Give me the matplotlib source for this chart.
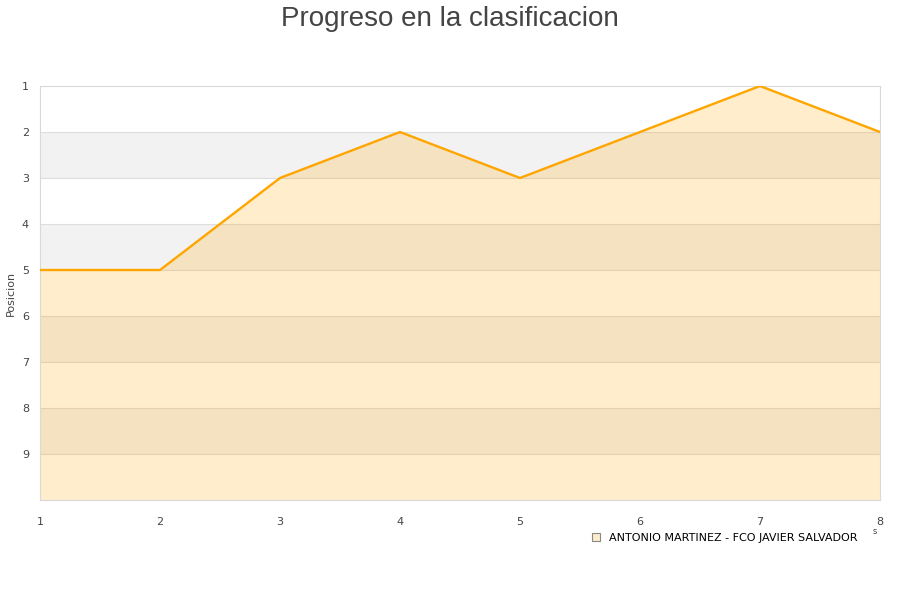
import matplotlib.pyplot as plt
from matplotlib.patches import Patch

jornadas = [1, 2, 3, 4, 5, 6, 7, 8]
posicion = [5, 5, 3, 2, 3, 2, 1, 2]
serie = "ANTONIO MARTINEZ - FCO JAVIER SALVADOR"
y_ticks = [1, 2, 3, 4, 5, 6, 7, 8, 9]

fig = plt.figure(figsize=(9, 6), dpi=100)
ax = fig.add_axes([40 / 900, 100 / 600, 840 / 900, 414 / 600])

# alternating bands
for lo in [2, 4, 6, 8]:
    ax.axhspan(lo, lo + 1, color='#f2f2f2', lw=0, zorder=0)
for y in y_ticks[1:]:
    ax.axhline(y, color='#dddddd', lw=0.8, zorder=1)

ax.fill_between(jornadas, posicion, 10, color='#ffa500', alpha=0.2, lw=0, zorder=2)
ax.plot(jornadas, posicion, color='#ffa500', lw=1.7, zorder=3)

ax.set_xlim(1, 8)
ax.set_ylim(10, 1)
ax.set_xticks(jornadas)
ax.set_yticks(y_ticks)
ax.tick_params(length=0, labelsize=8, colors='#444444', pad=12)
ax.tick_params(axis='y', pad=8)
for s in ax.spines.values():
    s.set_color('#d9d9d9')
ax.set_ylabel("Posicion", fontsize=8, color='#444444')
ax.yaxis.set_label_coords(-24 / 840, 0.5)

fig.suptitle("Progreso en la clasificacion", fontsize=20, color='#444444', y=0.99,
             family='Liberation Sans')

ax.legend(handles=[Patch(facecolor='#fdeccb', edgecolor='#888888', lw=0.8, label=serie)],
          loc='upper right', bbox_to_anchor=(0.985, -0.055), frameon=False,
          fontsize=8, handlelength=0.7, handleheight=0.7)
fig.text(875 / 900, 1 - 532 / 600, "s", fontsize=6, color='#444444', ha='center', va='center')

fig.savefig('out.png', dpi=100)
